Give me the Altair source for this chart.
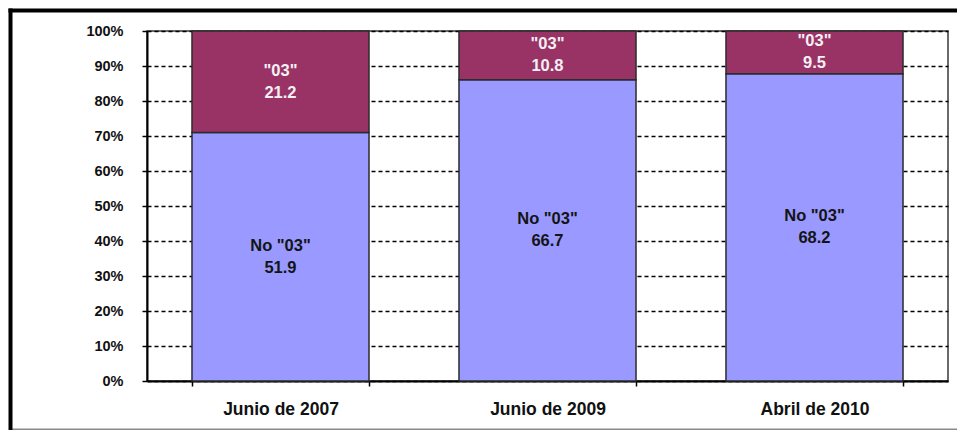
import altair as alt
import pandas as pd

categories = ["Junio de 2007", "Junio de 2009", "Abril de 2010"]
series = ['No "03"', '"03"']
no03 = [51.9, 66.7, 68.2]
si03 = [21.2, 10.8, 9.5]
y_ticks = [0, 0.1, 0.2, 0.3, 0.4, 0.5, 0.6, 0.7, 0.8, 0.9, 1.0]

rows = []
for i, c in enumerate(categories):
    for k, (s, vals) in enumerate(zip(series, [no03, si03])):
        rows.append({"cat": c, "serie": s, "order": k, "value": vals[i],
                     "label": f"{s}\n{vals[i]:.1f}"})
df = pd.DataFrame(rows)

FONT = "Liberation Sans"

xaxis = alt.Axis(title=None, labelAngle=0, tickBand="extent",
                 labelFont=FONT, labelFontSize=17.5, labelFontWeight="bold",
                 labelColor="#111111", labelPadding=14,
                 domainColor="#000000", domainWidth=2,
                 tickColor="#000000", tickWidth=1.5, tickSize=5,
                 grid=False)
xscale = alt.Scale(paddingInner=0.337, paddingOuter=0.1685)

yaxis = alt.Axis(title=None, values=y_ticks, format=".0%", labelOverlap=False,
                 labelFont=FONT, labelFontSize=14.5, labelFontWeight="bold",
                 labelColor="#111111", labelPadding=19,
                 domainColor="#000000", domainWidth=2,
                 tickColor="#000000", tickWidth=1.5, tickSize=5,
                 grid=True, gridColor="#000000", gridWidth=1.3,
                 gridDash=[4, 3])
yscale = alt.Scale(domain=[0, 1], nice=False)

bars = alt.Chart(df).mark_bar(stroke="#2b2b2b", strokeWidth=1.5).encode(
    x=alt.X("cat:N", sort=categories, scale=xscale, axis=xaxis),
    y=alt.Y("value:Q", stack="normalize", scale=yscale, axis=yaxis),
    color=alt.Color("serie:N", scale=alt.Scale(domain=series, range=["#9999FF", "#993366"]),
                    legend=None),
    order=alt.Order("order:Q", sort="ascending"),
)

texts = alt.Chart(df).transform_stack(
    stack="value", groupby=["cat"], as_=["y0", "y1"], offset="normalize",
    sort=[alt.SortField("order", order="ascending")]
).transform_calculate(
    mid="(datum.y0 + datum.y1) / 2"
).mark_text(font=FONT, fontSize=16.5, fontWeight="bold", lineBreak="\n",
            lineHeight=22, baseline="middle", align="center", dy=-11).encode(
    x=alt.X("cat:N", sort=categories, scale=xscale, axis=xaxis),
    y=alt.Y("mid:Q", scale=yscale, axis=yaxis),
    text="label:N",
    color=alt.condition("datum.order == 1", alt.value("#F4F0F4"), alt.value("#141414")),
)

one = pd.DataFrame({"a": [0]})
frame_bottom = alt.Chart(one).mark_rule(color="#8a8a8a", strokeWidth=1.5).encode(
    x=alt.value(-138), x2=alt.value(810), y=alt.value(398.25))
frame_left = alt.Chart(one).mark_rule(color="#000000", strokeWidth=4).encode(
    x=alt.value(-136.5), y=alt.value(-22.5), y2=alt.value(399))
frame_top = alt.Chart(one).mark_rule(color="#000000", strokeWidth=4).encode(
    x=alt.value(-138.5), x2=alt.value(810), y=alt.value(-20.5))

chart = alt.layer(bars, texts, frame_bottom, frame_left, frame_top).properties(
    width=801, height=350,
    autosize=alt.AutoSizeParams(type="none"),
    padding={"left": 139, "top": 23, "right": 9, "bottom": 51},
    background="#ffffff",
).configure_view(stroke="#3a3a3a", strokeWidth=1.5)

chart.save("out.html", embed_options={"renderer": "svg", "actions": False})
